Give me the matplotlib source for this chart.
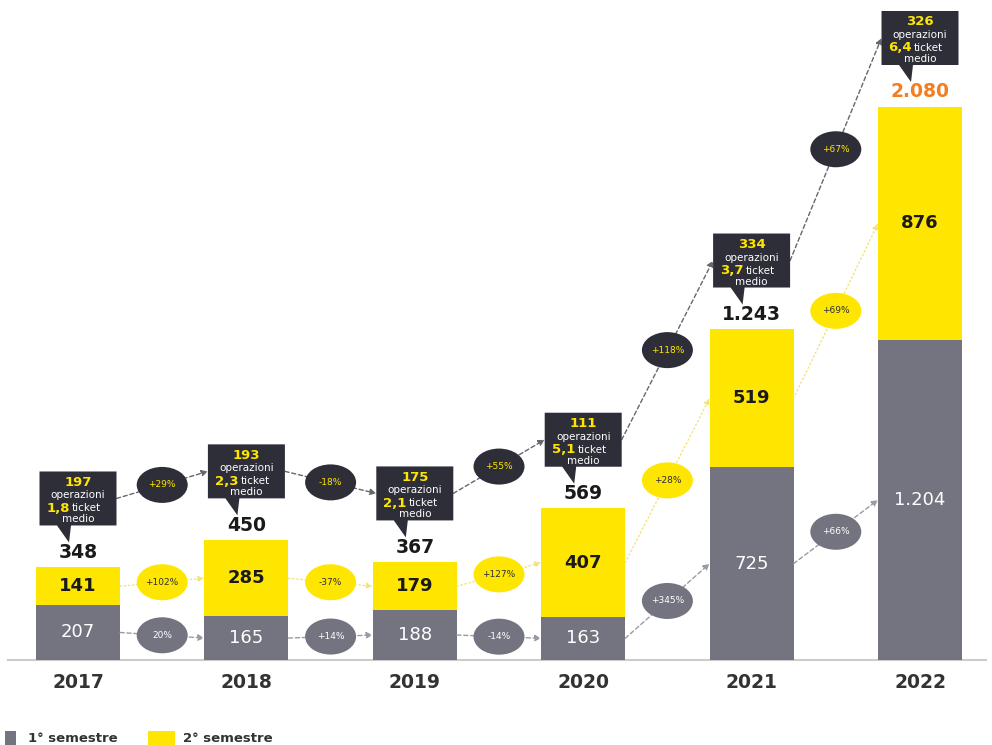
import matplotlib.pyplot as plt
from matplotlib.patches import Ellipse, Polygon, Rectangle

# fatturato per semestre (M€) e operazioni
years = ['2017', '2018', '2019', '2020', '2021', '2022']
first_half = [207, 165, 188, 163, 725, 1204]
second_half = [141, 285, 179, 407, 519, 876]
totals = [348, 450, 367, 569, 1243, 2080]
deals = [197, 193, 175, 111, 334, 326]
avg_ticket = ['1,8', '2,3', '2,1', '5,1', '3,7', '6,4']
total_growth = ['+29%', '-18%', '+55%', '+118%', '+67%']
second_growth = ['+102%', '-37%', '+127%', '+28%', '+69%']
first_growth = ['20%', '+14%', '-14%', '+345%', '+66%']

GREY = '#747480'
YELLOW = '#ffe600'
DARK = '#2e2e38'
ORANGE = '#f47d20'

W, H = 992, 745
fig = plt.figure(figsize=(W / 100, H / 100), dpi=100)
ax = fig.add_axes([0, 0, 1, 1])
X0, X1 = -0.4632, -0.4632 + W / 168.4
Y0, Y1 = -319.7, -319.7 + H / 0.26587
ax.set_xlim(X0, X1)
ax.set_ylim(Y0, Y1)
ax.axis('off')

px_x = (X1 - X0) / W
px_y = (Y1 - Y0) / H


def fmt(v):
    return f'{v:,}'.replace(',', '.')


x = list(range(len(years)))
bar_w = 84 * px_x
ax.bar(x, first_half, width=bar_w, color=GREY, zorder=2)
ax.bar(x, second_half, width=bar_w, bottom=first_half, color=YELLOW, zorder=2)
ax.plot([X0 + 8 * px_x, X1 - 6 * px_x], [0, 0], color='#cccccc', lw=1.5, zorder=1)

first_mid = [a / 2 for a in first_half]
second_mid = [a + b / 2 for a, b in zip(first_half, second_half)]

for i in x:
    ax.text(i, first_mid[i], fmt(first_half[i]), ha='center', va='center',
            color='white', fontsize=13, zorder=5)
    ax.text(i, second_mid[i], fmt(second_half[i]), ha='center', va='center',
            color='#1a1a1a', fontsize=13, fontweight='bold', zorder=5)
    ax.text(i, -22 * px_y, years[i], ha='center', va='center',
            color='#333333', fontsize=13.5, fontweight='bold')
    ax.text(i, totals[i] + 15 * px_y, fmt(totals[i]), ha='center', va='center',
            color=ORANGE if i == len(years) - 1 else '#1a1a1a',
            fontsize=13.5, fontweight='bold')

# callout con numero operazioni e ticket medio
box_w = 77 * px_x
box_h = 54 * px_y
box_mid = []
for i in x:
    bottom = totals[i] + 42 * px_y
    top = bottom + box_h
    l, r = i - box_w / 2, i + box_w / 2
    shape = [(l, top), (r, top), (r, bottom), (i - 7 * px_x, bottom),
             (i - 9 * px_x, bottom - 17 * px_y), (i - 21 * px_x, bottom), (l, bottom)]
    ax.add_patch(Polygon(shape, closed=True, facecolor=DARK, edgecolor='none', zorder=4))
    ax.text(i, top - 11 * px_y, str(deals[i]), ha='center', va='center',
            color=YELLOW, fontsize=9.5, fontweight='bold', zorder=5)
    ax.text(i, top - 24 * px_y, 'operazioni', ha='center', va='center',
            color='white', fontsize=7.5, zorder=5)
    ax.text(i - 8 * px_x, top - 37 * px_y, avg_ticket[i], ha='right', va='center',
            color=YELLOW, fontsize=9.5, fontweight='bold', zorder=5)
    ax.text(i - 6 * px_x, top - 37 * px_y, 'ticket', ha='left', va='center',
            color='white', fontsize=7.5, zorder=5)
    ax.text(i, top - 48 * px_y, 'medio', ha='center', va='center',
            color='white', fontsize=7.5, zorder=5)
    box_mid.append((bottom + top) / 2)


def link(x0, y0, x1, y1, label, line_col, face, text_col, ls):
    ax.annotate('', xy=(x1, y1), xytext=(x0, y0),
                arrowprops=dict(arrowstyle='-|>', color=line_col, lw=1,
                                linestyle=ls, shrinkA=0, shrinkB=0,
                                mutation_scale=9), zorder=3)
    cx, cy = (x0 + x1) / 2, (y0 + y1) / 2
    ax.add_patch(Ellipse((cx, cy), 51 * px_x, 36 * px_y, facecolor=face,
                         edgecolor='none', zorder=4))
    ax.text(cx, cy, label, ha='center', va='center', color=text_col,
            fontsize=6.5, zorder=5)


bar_half = bar_w / 2
for i in x[:-1]:
    link(i + box_w / 2, box_mid[i], i + 1 - box_w / 2, box_mid[i + 1],
         total_growth[i], '#666670', DARK, YELLOW, (0, (3, 2)))
    link(i + bar_half, second_mid[i], i + 1 - bar_half, second_mid[i + 1],
         second_growth[i], '#f2e27a', YELLOW, '#2e2e38', (0, (1, 2)))
    link(i + bar_half, first_mid[i], i + 1 - bar_half, first_mid[i + 1],
         first_growth[i], '#9a9aa4', GREY, 'white', (0, (3, 2)))

# legenda
ax.add_patch(Rectangle((X0 + 5 * px_x, Y0), 11 * px_x, 14 * px_y,
                       facecolor=GREY, edgecolor='none', clip_on=False))
ax.text(X0 + 28 * px_x, Y0 + 7 * px_y, '1° semestre', ha='left', va='center',
        color='#333333', fontsize=9.5, fontweight='bold')
ax.add_patch(Rectangle((X0 + 148 * px_x, Y0), 27 * px_x, 14 * px_y,
                       facecolor=YELLOW, edgecolor='none', clip_on=False))
ax.text(X0 + 183 * px_x, Y0 + 7 * px_y, '2° semestre', ha='left', va='center',
        color='#333333', fontsize=9.5, fontweight='bold')

fig.savefig('out.png', dpi=100, facecolor='white')
